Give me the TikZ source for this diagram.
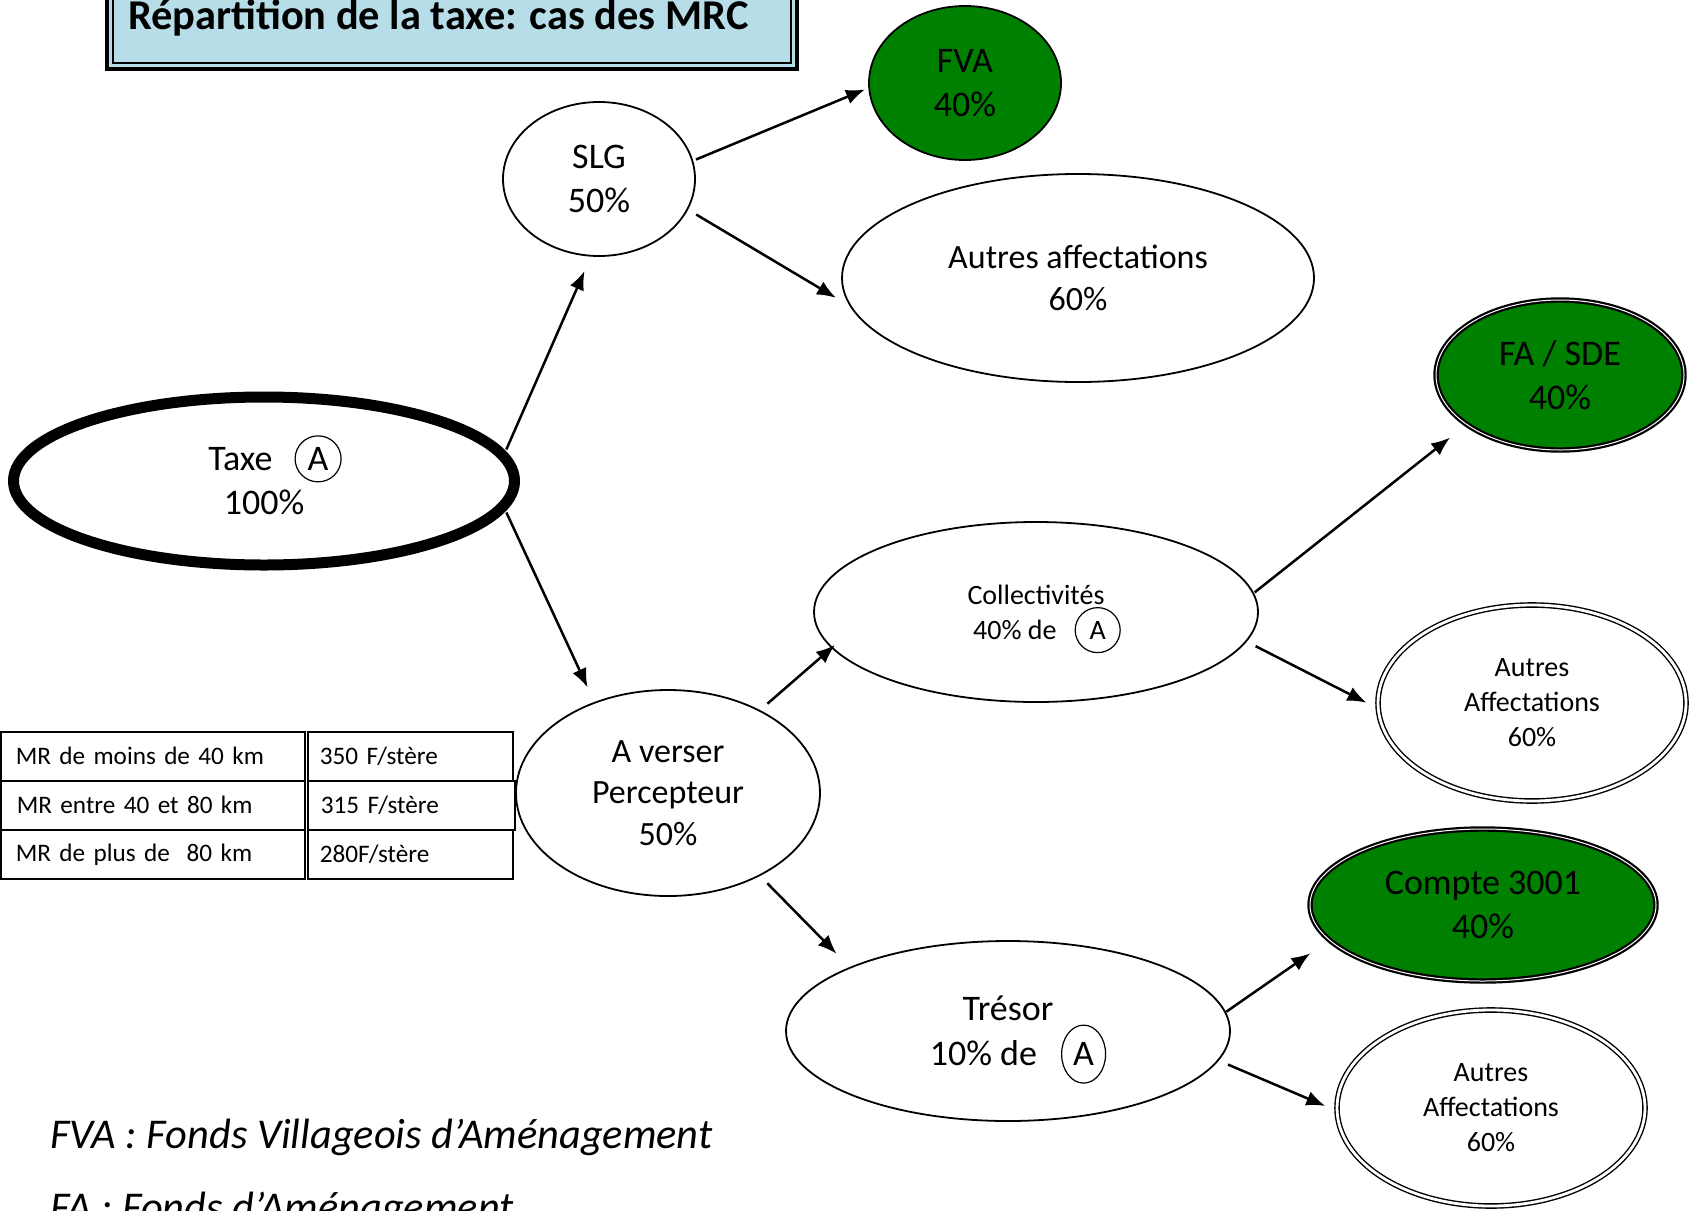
\documentclass[tikz,border=0pt]{standalone}
\usepackage{fontspec}
\setmainfont{Carlito}
\usetikzlibrary{positioning}
\usetikzlibrary{arrows.meta}
\usetikzlibrary{shapes.geometric}
\definecolor{pBlue}{HTML}{B7DEE8}
\definecolor{pGreen}{HTML}{008000}

% letter A in a ring, as in the taxe scheme
\newcommand{\entoureA}[2]{\smash{\tikz[baseline=(eA.base)]\node[ellipse, draw, fill=none, double=none,
  line width=0.6pt, inner sep=0pt, minimum width=#1, minimum height=#2] (eA) {A};}}

\tikzset{
  bulle/.style={ellipse, draw, line width=0.9pt, inner sep=0pt, align=center,
    font=\fontsize{17}{20.8}\selectfont},
  bulleverte/.style={bulle, fill=pGreen, font=\fontsize{18}{22}\selectfont},
  bulledoubleverte/.style={bulleverte, double=white, double distance=0.5pt, line width=1.1pt},
  bulledouble/.style={bulle, double=white, double distance=1.4pt, line width=0.7pt,
    font=\fontsize{14}{17.5}\selectfont},
  fleche/.style={-{Latex[length=9.5pt,width=7.5pt]}, line width=1.25pt},
  cellule/.style={draw, line width=0.8pt, anchor=north west, align=left,
    minimum height=24.5pt, inner ysep=0pt, font=\fontsize{12.6}{15}\selectfont},
}

\begin{document}
\begin{tikzpicture}[x=0.5pt, y=-0.5pt]
  \useasboundingbox (0,0) rectangle (1695,1210);

  % title box
  \draw[line width=2.3pt, fill=pBlue] (107,-30) rectangle (797,69);
  \draw[line width=0.75pt] (113,-30) rectangle (791,63);
  \node[anchor=base west, font=\bfseries\fontsize{21.2}{25}\selectfont] (titre) at (121,29)
    {Répartition de la taxe: cas des MRC};

  % ellipses
  \node[bulle, line width=5.5pt, minimum width=250.5pt, minimum height=84pt,
    font=\fontsize{18}{22}\selectfont] (taxe) at (264,481)
    {\hspace*{11pt}Taxe\hspace{11pt}\entoureA{23pt}{23pt}\\100\%};
  \node[bulle, minimum width=96pt, minimum height=77pt, font=\fontsize{18}{22}\selectfont]
    (slg) at (599,179) {SLG\\50\%};
  \node[bulleverte, minimum width=96pt, minimum height=77pt] (fva) at (965,83) {FVA\\40\%};
  \node[bulle, minimum width=236pt, minimum height=104pt] (autres1) at (1078,278)
    {Autres affectations\\60\%};
  \node[bulle, minimum width=152pt, minimum height=103pt] (averser) at (668,793)
    {A verser\\Percepteur\\50\%};
  \node[bulle, minimum width=222pt, minimum height=90pt, font=\fontsize{14}{17.5}\selectfont]
    (coll) at (1036,612) {Collectivités\\\hspace*{11pt}40\% de\hspace{9pt}\entoureA{22.5pt}{22.5pt}};
  \node[bulle, minimum width=222pt, minimum height=90pt, font=\fontsize{18}{22.5}\selectfont]
    (tresor) at (1008,1031) {Trésor\\\hspace*{10pt}10\% de\hspace{12pt}\entoureA{22pt}{29pt}};
  \node[bulledoubleverte, minimum width=124pt, minimum height=75pt] (fasde) at (1560,375)
    {FA / SDE\\40\%};
  \node[bulledouble, minimum width=154pt, minimum height=98pt] (autres2) at (1532,703)
    {Autres\\Affectations\\60\%};
  \node[bulledoubleverte, minimum width=173pt, minimum height=76pt] (compte) at (1483,905)
    {Compte 3001\\40\%};
  \node[bulledouble, minimum width=154pt, minimum height=98pt] (autres3) at (1491,1108)
    {Autres\\Affectations\\60\%};

  % arrows
  \draw[fleche, shorten <=1.5pt, shorten >=1.8pt] (slg.11.2) -- (fva.183.9);
  \draw[fleche, shorten <=4.75pt, shorten >=8pt] (slg.-19.1) -- (autres1.187);
  \draw[fleche, shorten <=1pt, shorten >=7.8pt] (taxe.7.4) -- (slg.264.4);
  \draw[fleche, shorten <=1pt, shorten >=8pt] (taxe.-7.6) -- (averser.129.7);
  \draw[fleche, shorten <=4.85pt, shorten >=-2.4pt] (averser.42.8) -- (coll.190.3);
  \draw[fleche, shorten <=5.15pt, shorten >=9.3pt] (averser.-42.7) -- (tresor.158.1);
  \draw[fleche, shorten <=0.45pt, shorten >=10pt] (coll.5.4) -- (fasde.208.5);
  \draw[fleche, shorten <=4.95pt, shorten >=6.25pt] (coll.-8.6) -- (autres2.182);
  \draw[fleche, shorten <=0.2pt, shorten >=11.1pt] (tresor.5.2) -- (compte.193.8);
  \draw[fleche, shorten <=5pt, shorten >=6pt] (tresor.-8.7) -- (autres3.181.3);

  % price table
  \node[cellule, minimum width=152pt, text width=137pt, inner xsep=7.5pt] (mr1) at (0,731)
    {MR de moins de 40 km};
  \node[cellule, minimum width=102.5pt, text width=90.5pt, inner xsep=6pt] (prix1) at (307,731)
    {350 F/stère};
  \node[cellule, minimum width=152pt, text width=136pt, inner xsep=8pt] (mr2) at (0,780)
    {MR entre 40 et 80 km};
  \node[cellule, minimum width=103.5pt, text width=90.5pt, inner xsep=6.5pt] (prix2) at (307,780)
    {315 F/stère};
  \node[cellule, minimum width=152pt, text width=137pt, inner xsep=7.5pt] (mr3) at (0,829)
    {MR de plus de\ \ 80 km};
  \node[cellule, minimum width=102.5pt, text width=90.5pt, inner xsep=6pt] (prix3) at (307,829)
    {280F/stère};

  % legend
  \node[anchor=base west, font=\itshape\fontsize{21.2}{25}\selectfont] (legendeFVA) at (43,1148)
    {FVA : Fonds Villageois d’Aménagement};
  \node[anchor=base west, font=\itshape\fontsize{21.2}{25}\selectfont] (legendeFA) at (43,1221)
    {FA : Fonds d’Aménagement};
\end{tikzpicture}
\end{document}
